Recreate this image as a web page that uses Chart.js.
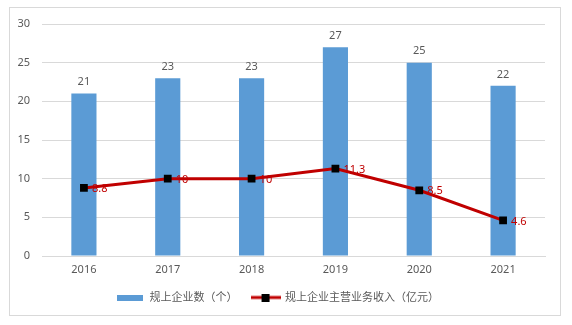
<!DOCTYPE html>
<html>
<head>
<meta charset="utf-8">
<script src="https://cdn.jsdelivr.net/npm/chart.js@4"></script>
<style>
  html, body { margin: 0; padding: 0; background: #fff; }
  .wrap { position: relative; width: 572px; height: 325px; }
  .frame { position: absolute; left: 9px; top: 7px; width: 550px; height: 307px; border: 1px solid #d9d9d9; pointer-events: none; }
  canvas { position: absolute; left: 0; top: 0; }
</style>
</head>
<body>
<div class="wrap">
  <canvas id="enterpriseChart" width="572" height="325"></canvas>
  <div class="frame"></div>
</div>
<script>
// Data
const years = ['2016', '2017', '2018', '2019', '2020', '2021'];
const enterpriseCount = [21, 23, 23, 27, 25, 22];
const mainRevenue = [8.8, 10, 10, 11.3, 8.5, 4.6];
const yTicks = [0, 5, 10, 15, 20, 25, 30];

const BAR_COLOR = '#5B9BD5';
const LINE_COLOR = '#C00000';
const TEXT_COLOR = '#595959';
const FONT = "'Noto Sans', 'Noto Sans CJK SC', sans-serif";

// Legend swatches drawn on small canvases
function barSwatch() {
    const c = document.createElement('canvas');
    c.width = 26; c.height = 6;
    const g = c.getContext('2d');
    g.fillStyle = BAR_COLOR;
    g.fillRect(0, 0, 26, 6);
    return c;
}
function lineSwatch() {
    const c = document.createElement('canvas');
    c.width = 30; c.height = 8;
    const g = c.getContext('2d');
    g.strokeStyle = LINE_COLOR;
    g.lineWidth = 3;
    g.beginPath(); g.moveTo(0, 4); g.lineTo(30, 4); g.stroke();
    g.fillStyle = '#000';
    g.fillRect(11, 0, 8, 8);
    return c;
}

// Value labels above bars and beside points
const valueLabels = {
    id: 'valueLabels',
    afterDatasetsDraw(chart) {
        const ctx = chart.ctx;
        ctx.save();
        ctx.font = '11px ' + FONT;
        chart.data.datasets.forEach((ds, i) => {
            const meta = chart.getDatasetMeta(i);
            meta.data.forEach((el, j) => {
                const v = ds.data[j];
                if (ds.type === 'bar') {
                    ctx.fillStyle = TEXT_COLOR;
                    ctx.textAlign = 'center';
                    ctx.textBaseline = 'bottom';
                    ctx.fillText(v, el.x, el.y - 6);
                } else {
                    ctx.fillStyle = LINE_COLOR;
                    ctx.textAlign = 'left';
                    ctx.textBaseline = 'middle';
                    ctx.fillText(v, el.x + 8, el.y + 1);
                }
            });
        });
        ctx.restore();
    }
};

const ctx = document.getElementById('enterpriseChart').getContext('2d');
new Chart(ctx, {
    data: {
        labels: years,
        datasets: [{
            type: 'line',
            label: '规上企业主营业务收入（亿元）',
            data: mainRevenue,
            borderColor: LINE_COLOR,
            borderWidth: 3,
            tension: 0,
            pointStyle: 'rect',
            pointRadius: 5.5,
            pointBackgroundColor: '#000',
            pointBorderColor: '#000',
            pointBorderWidth: 0,
            order: 0
        }, {
            type: 'bar',
            label: '规上企业数（个）',
            data: enterpriseCount,
            backgroundColor: BAR_COLOR,
            barPercentage: 0.3,
            categoryPercentage: 1,
            order: 1
        }]
    },
    options: {
        responsive: false,
        animation: false,
        layout: {
            padding: { left: 10, right: 27, top: 24, bottom: 12 }
        },
        scales: {
            y: {
                min: 0,
                max: 30,
                afterBuildTicks: scale => {
                    scale.ticks = yTicks.map(v => ({ value: v }));
                },
                afterFit: scale => { scale.width = 32; },
                border: { display: false },
                grid: { color: '#d9d9d9', drawTicks: false },
                ticks: { color: TEXT_COLOR, font: { size: 11, family: FONT }, padding: 12 }
            },
            x: {
                afterFit: scale => { scale.height = 22; },
                border: { display: true, color: '#d9d9d9' },
                grid: { display: false, drawTicks: false },
                ticks: { color: TEXT_COLOR, font: { size: 11, family: FONT }, padding: 7 }
            }
        },
        plugins: {
            legend: {
                position: 'bottom',
                reverse: true,
                labels: {
                    usePointStyle: true,
                    pointStyleWidth: 28,
                    color: TEXT_COLOR,
                    font: { size: 11, family: FONT },
                    padding: 14,
                    generateLabels: chart => chart.data.datasets.map((ds, i) => ({
                        text: ds.label,
                        datasetIndex: i,
                        pointStyle: ds.type === 'bar' ? barSwatch() : lineSwatch(),
                        fontColor: TEXT_COLOR,
                        hidden: false
                    }))
                }
            },
            tooltip: { enabled: false }
        }
    },
    plugins: [valueLabels]
});
</script>
</body>
</html>
